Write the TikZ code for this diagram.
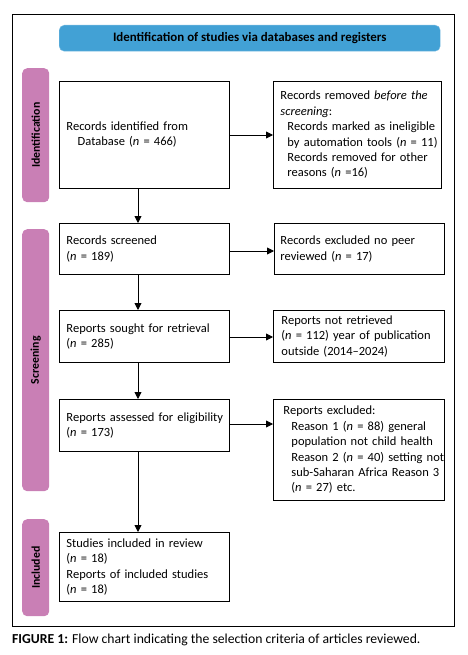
\documentclass[tikz,border=0pt]{standalone}
\usepackage{fontspec}
\setmainfont{Carlito}
\usetikzlibrary{arrows.meta}
\definecolor{hdrblue}{HTML}{42A1D5}
\definecolor{barpink}{HTML}{C97FB5}
\newcommand{\ind}[1]{\hspace*{#1pt}}
\begin{document}
\begin{tikzpicture}[x=1pt,y=-1pt,
  box/.style={draw=black,line width=0.9pt,anchor=north west,inner xsep=0pt,inner ysep=0pt,align=left,font=\fontsize{12.5}{15.4}\selectfont},
  bar/.style={fill=barpink,rounded corners=5pt,anchor=north west,inner sep=0pt},
  bartext/.style={rotate=90,font=\bfseries\fontsize{11.8}{14}\selectfont},
  arr/.style={line width=0.9pt,-{Triangle[length=7pt,width=7pt]}}]
\useasboundingbox (0,0) rectangle (467,655);
\node[draw=black,line width=0.9pt,anchor=north west,minimum width=442pt,minimum height=612pt,inner sep=0pt] (frame) at (12,14) {};
\node[fill=hdrblue,draw=hdrblue!70!white,rounded corners=5pt,anchor=north west,minimum width=381pt,minimum height=26pt,inner sep=0pt,font=\bfseries\fontsize{12.9}{15}\selectfont] (hdr) at (59,25) {Identification of studies via databases and registers};
% side bars
\node[bar,minimum width=27pt,minimum height=134pt] (bar1) at (22,68) {};
\node[bartext] (bar1t) at (bar1.center) {Identification};
\node[bar,minimum width=27pt,minimum height=262pt] (bar2) at (22,229) {};
\node[bartext] (bar2t) at (bar2.center) {Screening};
\node[bar,minimum width=27pt,minimum height=97pt] (bar3) at (22,519) {};
\node[bartext] (bar3t) at (bar3.center) {Included};
% left boxes
\node[box,minimum width=170pt,minimum height=107pt,text width=170pt] (b1) at (59,81) {\ind{7}\begin{tabular}{@{}c@{}}Records identified from\\Database (\textit{n} = 466)\end{tabular}};
\node[box,minimum width=170pt,minimum height=51pt,text width=170pt] (b2) at (59,223) {\ind{7}Records screened\\\ind{7}(\textit{n} = 189)};
\node[box,minimum width=170pt,minimum height=52pt,text width=170pt] (b3) at (59,310) {\ind{7}Reports sought for retrieval\\\ind{7}(\textit{n} = 285)};
\node[box,minimum width=170pt,minimum height=52pt,text width=170pt] (b4) at (59,399) {\ind{7}Reports assessed for eligibility\\\ind{7}(\textit{n} = 173)};
\node[box,minimum width=170pt,minimum height=69pt,text width=170pt] (b5) at (59,532) {\ind{7}Studies included in review\\\ind{7}(\textit{n} = 18)\\\ind{7}Reports of included studies\\\ind{7}(\textit{n} = 18)};
% right boxes
\node[box,minimum width=168pt,minimum height=107pt,text width=168pt] (r1) at (273,81) {\ind{7}Records removed \textit{before the}\\\ind{7}\textit{screening}:\\\ind{14}Records marked as ineligible\\\ind{14}by automation tools (\textit{n} = 11)\\\ind{14}Records removed for other\\\ind{14}reasons (\textit{n} =16)};
\node[box,minimum width=170pt,minimum height=51pt,text width=170pt] (r2) at (274,223) {\ind{6}Records excluded no peer\\\ind{6}reviewed (\textit{n} = 17)};
\node[box,minimum width=171pt,minimum height=52pt,text width=171pt] (r3) at (273,310) {\ind{8}Reports not retrieved\\\ind{8}(\textit{n} = 112) year of publication\\\ind{8}outside (2014--2024)};
\node[box,minimum width=171pt,minimum height=101pt,text width=171pt] (r4) at (273,399) {\ind{10}Reports excluded:\\\ind{18}Reason 1 (\textit{n} = 88) general\\\ind{18}population not child health\\\ind{18}Reason 2 (\textit{n} = 40) setting not\\\ind{18}sub-Saharan Africa Reason 3\\\ind{18}(\textit{n} = 27) etc.};
% arrows
\coordinate (a1) at (229,135); \coordinate (a2) at (229,251); \coordinate (a3) at (229,337); \coordinate (a4) at (229,424);
\draw[arr] (a1) -- (r1.west|-a1);
\draw[arr] (a2) -- (r2.west|-a2);
\draw[arr] (a3) -- (r3.west|-a3);
\draw[arr] (a4) -- (r4.west|-a4);
\draw[arr] (b1.south-|138,0) -- (b2.north-|138,0);
\draw[arr] (b2.south-|138,0) -- (b3.north-|138,0);
\draw[arr] (b3.south-|138,0) -- (b4.north-|138,0);
\draw[arr] (b4.south-|138,0) -- (b5.north-|138,0);
% caption
\node[anchor=west,inner sep=0pt,font=\fontsize{13.7}{16}\selectfont] (cap) at (12,640) {\textbf{FIGURE 1:} Flow chart indicating the selection criteria of articles reviewed.};
\end{tikzpicture}
\end{document}
